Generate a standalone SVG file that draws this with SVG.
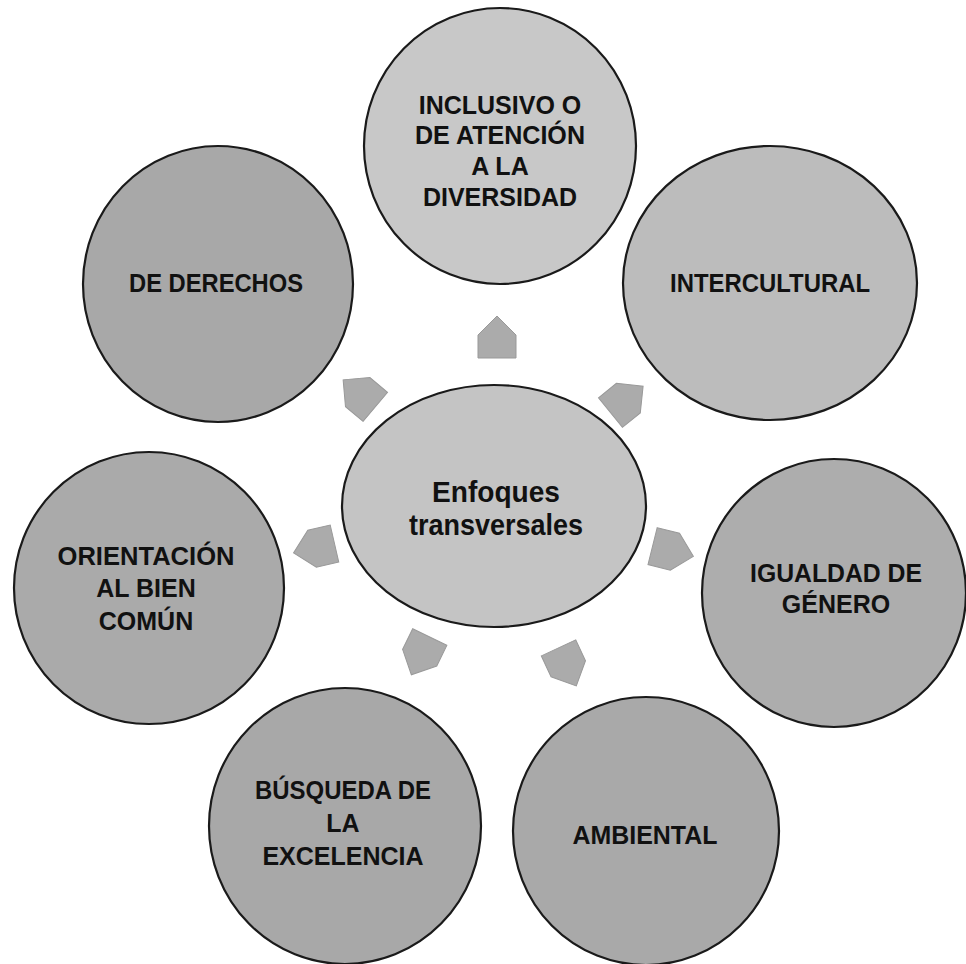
<svg xmlns="http://www.w3.org/2000/svg" width="966" height="964" viewBox="0 0 966 964">
<defs>
<style>
.n{stroke:#1a1a1a;stroke-width:2.2}
.t{font-family:"Liberation Sans",Arial,sans-serif;font-weight:bold;font-size:25px;fill:#111;text-anchor:middle}
.c{font-size:30px}
.a{fill:#ababab;stroke:#999;stroke-width:1}
</style>
<polygon id="arr" points="-20,-19 3,-19 22,0 3,19 -20,19"/>
</defs>
<rect width="966" height="964" fill="#ffffff"/>
<g id="connectors">
<use href="#arr" class="a" transform="translate(497,338) rotate(-90)"/>
<use href="#arr" class="a" transform="translate(360,394) rotate(-140)"/>
<use href="#arr" class="a" transform="translate(626,400) rotate(-39)"/>
<use href="#arr" class="a" transform="translate(315,548) rotate(167)"/>
<use href="#arr" class="a" transform="translate(672,551) rotate(14)"/>
<use href="#arr" class="a" transform="translate(421,655) rotate(116)"/>
<use href="#arr" class="a" transform="translate(567,666) rotate(65)"/>
</g>
<g id="node-inclusivo">
<ellipse class="n" cx="500" cy="146" rx="136" ry="138" fill="#c8c8c8"/>
<text class="t" x="500" y="114">INCLUSIVO O</text>
<text class="t" x="500" y="144" textLength="170" lengthAdjust="spacingAndGlyphs">DE ATENCIÓN</text>
<text class="t" x="500" y="175">A LA</text>
<text class="t" x="500" y="206">DIVERSIDAD</text>
</g>
<g id="node-derechos">
<ellipse class="n" cx="218" cy="284" rx="135" ry="138" fill="#a8a8a8"/>
<text class="t" x="216" y="292" textLength="174" lengthAdjust="spacingAndGlyphs">DE DERECHOS</text>
</g>
<g id="node-intercultural">
<ellipse class="n" cx="770" cy="283" rx="147" ry="137" fill="#bcbcbc"/>
<text class="t" x="770" y="292" textLength="200" lengthAdjust="spacingAndGlyphs">INTERCULTURAL</text>
</g>
<g id="node-center">
<ellipse class="n" cx="494" cy="506" rx="152" ry="121" fill="#c4c4c4"/>
<text class="t c" x="496" y="502" textLength="128" lengthAdjust="spacingAndGlyphs">Enfoques</text>
<text class="t c" x="496" y="535" textLength="174" lengthAdjust="spacingAndGlyphs">transversales</text>
</g>
<g id="node-orientacion">
<ellipse class="n" cx="149" cy="588" rx="135" ry="136" fill="#aaaaaa"/>
<text class="t" x="146" y="565" textLength="177" lengthAdjust="spacingAndGlyphs">ORIENTACIÓN</text>
<text class="t" x="146" y="597">AL BIEN</text>
<text class="t" x="146" y="630">COMÚN</text>
</g>
<g id="node-igualdad">
<ellipse class="n" cx="834" cy="593" rx="132" ry="134" fill="#adadad"/>
<text class="t" x="836" y="582" textLength="172" lengthAdjust="spacingAndGlyphs">IGUALDAD DE</text>
<text class="t" x="836" y="613">GÉNERO</text>
</g>
<g id="node-busqueda">
<ellipse class="n" cx="345" cy="826" rx="136" ry="138" fill="#a8a8a8"/>
<text class="t" x="343" y="799" textLength="176" lengthAdjust="spacingAndGlyphs">BÚSQUEDA DE</text>
<text class="t" x="343" y="832">LA</text>
<text class="t" x="343" y="865">EXCELENCIA</text>
</g>
<g id="node-ambiental">
<ellipse class="n" cx="646" cy="831" rx="133" ry="134" fill="#a9a9a9"/>
<text class="t" x="645" y="844" textLength="145" lengthAdjust="spacingAndGlyphs">AMBIENTAL</text>
</g>
</svg>
